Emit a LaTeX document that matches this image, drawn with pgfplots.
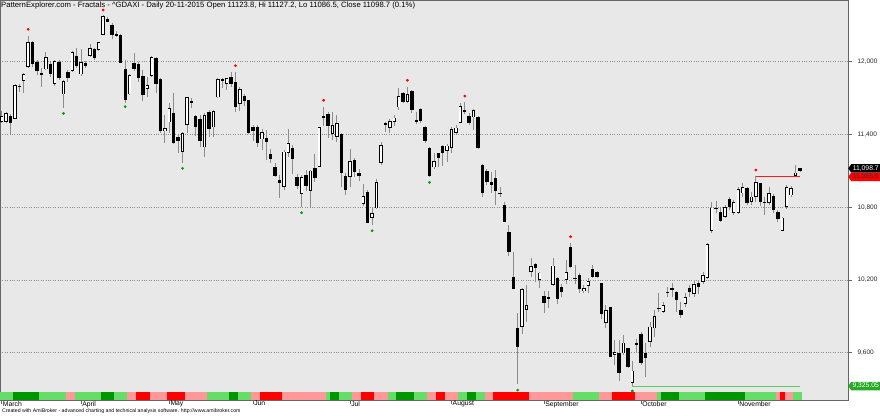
\documentclass[border=0pt]{standalone}
\usepackage{fontspec}
\setmainfont{Liberation Sans}
\usepackage{pgfplots}
\pgfplotsset{compat=1.18}
\usepackage{pgfplotstable}
\usetikzlibrary{shapes.symbols}

\definecolor{bgc}{RGB}{232,232,232}
\definecolor{lg}{RGB}{102,221,102}
\definecolor{dg}{RGB}{0,150,0}
\definecolor{pk}{RGB}{255,153,153}
\definecolor{rd}{RGB}{255,0,0}
\definecolor{fgreen}{RGB}{0,160,0}
\definecolor{lvgreen}{RGB}{100,200,100}
\definecolor{boxgreen}{RGB}{40,170,40}

% i = bar number, o h l c = open high low close, s = colour of the bottom strip
% s: 1 light green, 2 dark green, 3 pink, 4 red
\pgfplotstableread{
i o h l c s
0 11505 11593 11492 11552 1
1 11505 11588 11492 11579 1
2 11552 11569 11404 11497 1
3 11530 11816 11525 11805 2
4 11795 11816 11750 11799 2
5 11843 11904 11744 11896 2
6 11954 12212 11951 12162 2
7 12160 12173 11959 11979 2
8 11998 12014 11890 11923 2
9 11902 11946 11789 11897 1
10 11937 12082 11932 12036 1
11 11981 12000 11876 11896 1
12 11816 12014 11800 12006 1
13 11995 12014 11849 11863 1
14 11731 11849 11621 11841 1
15 11918 11932 11835 11863 3
16 11923 12091 11918 12082 3
17 12049 12110 11946 11965 1
18 11896 12102 11885 11995 1
19 11992 12008 11946 11965 1
20 12049 12143 12041 12115 1
21 12102 12110 12014 12033 1
22 12096 12165 12091 12160 1
23 12220 12385 12218 12377 2
24 12352 12366 12325 12330 2
25 12303 12316 12185 12220 2
26 12226 12256 12206 12214 1
27 12220 12226 11992 11992 1
28 11937 12014 11662 11684 1
29 11731 11899 11725 11890 3
30 11992 12068 11926 11937 3
31 11981 12000 11835 11863 4
32 11885 11932 11678 11725 4
33 11779 11871 11711 11807 4
34 11882 12047 11876 12036 3
35 12031 12036 11744 11814 3
36 11857 11863 11414 11431 3
37 11431 11560 11332 11451 3
38 11500 11657 11414 11616 4
39 11575 11744 11319 11327 4
40 11377 11395 11245 11349 4
41 11258 11423 11167 11410 4
42 11478 11711 11414 11706 3
43 11668 11698 11616 11672 3
44 11552 11560 11387 11464 3
45 11527 11560 11299 11349 3
46 11294 11575 11217 11560 3
47 11588 11602 11382 11442 1
48 11459 11602 11377 11591 1
49 11706 11863 11703 11855 1
50 11860 11868 11781 11843 1
51 11814 11868 11767 11863 1
52 11876 11918 11794 11814 2
53 11835 11918 11588 11624 2
54 11651 11789 11596 11773 1
55 11717 11734 11635 11678 1
56 11684 11684 11404 11414 1
57 11459 11478 11349 11431 3
58 11464 11475 11299 11327 3
59 11360 11442 11272 11418 4
60 11370 11436 11189 11340 4
61 11236 11278 11162 11195 4
62 11129 11162 11052 11060 4
63 11024 11066 10873 11002 4
64 10969 11272 10942 11258 3
65 11245 11442 11217 11327 3
66 11286 11313 11074 11195 3
67 11052 11074 10947 10975 3
68 10909 11066 10805 11047 3
69 11066 11107 10937 10975 3
70 10937 11107 10805 11102 3
71 11121 11239 11010 11038 3
72 11134 11464 11129 11459 3
73 11552 11629 11470 11536 3
74 11566 11588 11368 11470 1
75 11404 11588 11354 11478 2
76 11382 11560 11340 11492 2
77 11404 11410 10965 11079 1
78 11057 11079 10897 10942 1
79 11047 11278 10969 11181 1
80 11189 11203 11052 11093 3
81 11085 11113 11019 11057 3
82 10826 10991 10810 10892 4
83 10927 10942 10667 10672 4
84 10709 10791 10653 10750 4
85 10791 11031 10783 11006 3
86 11167 11340 11148 11313 3
87 11484 11505 11423 11488 3
88 11451 11525 11414 11513 1
89 11505 11560 11470 11539 1
90 11624 11781 11602 11717 2
91 11744 11753 11662 11670 2
92 11670 11794 11662 11734 2
93 11758 11767 11579 11602 2
94 11509 11588 11486 11513 1
95 11607 11616 11492 11513 1
96 11464 11470 11332 11346 1
97 11286 11299 11052 11057 3
98 11129 11245 11112 11178 3
99 11245 11250 11134 11208 4
100 11305 11313 11140 11250 4
101 11266 11322 11175 11308 3
102 11291 11464 11250 11445 3
103 11410 11478 11395 11456 3
104 11497 11657 11492 11632 1
105 11602 11665 11566 11583 1
106 11552 11575 11478 11492 2
107 11541 11610 11437 11602 2
108 11547 11552 11278 11286 1
109 11148 11154 10887 10920 1
110 11099 11113 10983 11010 3
111 11010 11093 10914 10983 3
112 11043 11107 10818 10936 4
113 10912 10969 10882 10916 4
114 10818 10845 10680 10680 4
115 10592 10653 10398 10433 4
116 10227 10433 10123 10123 4
117 9801 9930 9338 9645 4
118 9815 10131 9754 10123 4
119 9952 10159 9856 9994 4
120 10268 10379 10227 10315 3
121 10331 10342 10186 10296 3
122 10200 10268 10131 10260 3
123 10068 10112 9930 10013 3
124 10057 10112 9966 10046 3
125 10158 10379 10150 10318 3
126 10214 10222 10002 10040 3
127 10145 10167 10057 10103 3
128 10200 10365 10167 10268 3
129 10476 10507 10296 10304 3
130 10212 10323 10167 10216 1
131 10241 10255 10090 10123 1
132 10107 10156 10090 10134 1
133 10148 10214 10090 10189 1
134 10288 10323 10214 10227 1
135 10268 10274 10214 10227 1
136 10177 10177 9876 9917 3
137 9843 9994 9801 9952 3
138 9974 9979 9562 9567 3
139 9581 9705 9499 9608 4
140 9600 9705 9369 9430 4
141 9595 9746 9581 9683 4
142 9636 9636 9471 9485 4
143 9348 9534 9325 9452 4
144 9670 9711 9600 9674 3
145 9754 9773 9499 9513 3
146 9600 9683 9402 9554 3
147 9691 9856 9650 9815 3
148 9801 9952 9732 9903 3
149 9964 10090 9938 9968 1
150 9938 10021 9925 9994 2
151 10096 10145 10057 10100 2
152 10123 10177 10057 10127 2
153 10103 10112 9938 10035 2
154 9952 10021 9884 9911 1
155 10002 10095 9980 10062 1
156 10131 10159 10062 10103 1
157 10084 10194 10062 10167 1
158 10172 10200 10084 10145 1
159 10181 10268 10167 10241 1
160 10214 10502 10205 10494 2
161 10606 10845 10590 10797 2
162 10789 10854 10750 10793 2
163 10764 10800 10680 10689 2
164 10722 10818 10709 10800 2
165 10865 10887 10777 10800 2
166 10750 10859 10736 10845 2
167 10750 10969 10744 10947 2
168 10914 10997 10887 10964 2
169 10956 10964 10818 10837 1
170 10845 10928 10818 10887 1
171 10887 11055.5 10845 11006 1
172 10997 11002 10810 10845 1
173 10842 10887 10736 10838 1
174 10837 10964 10818 10914 1
175 10892 10909 10750 10777 1
176 10764 10777 10680 10703 3
177 10606 10722 10604 10714 4
178 10804 10983 10785 10969 3
179 10898 10975 10887 10956 3
180 11057 11148 11052 11085 1
181 11123.8 11127.2 11086.5 11098.7 1
}\dax

\begin{document}
\begin{tikzpicture}
\begin{axis}[
    at={(0,0)}, anchor=south west,
    width=848pt, height=400pt, scale only axis,
    xmin=-0.39, xmax=191.9,
    ymin=9210, ymax=12509,
    clip mode=individual,
    axis background/.style={fill=bgc},
    axis line style={black!60, line width=0.8pt},
    xtick={0,18,38,57,79,102,123,145,167},
    xticklabels={March,April,May,Jun,Jul,August,September,October,November},
    xtick pos=left,
    ytick={9600,10200,10800,11400,12000},
    ytick pos=right, yticklabel pos=right,
    scaled y ticks=false,
    /pgf/number format/assume math mode=true,
    /pgf/number format/1000 sep={,},
    tick align=outside, major tick length=3.5pt,
    tick style={black!60, line width=0.6pt},
    ymajorgrids,
    grid style={black!45, dotted, line width=0.6pt},
    xticklabel style={anchor=north west, inner sep=0pt, xshift=1pt, yshift=2.6pt,
        font=\fontsize{6.8}{7}\selectfont},
    yticklabel style={anchor=west, inner sep=0pt, xshift=5.8pt,
        font=\fontsize{6.5}{7}\selectfont, text=black!85},
    candle/.style={draw=none, mark=none, error bars/.cd, y dir=both, y explicit, error mark=none},
]

% bottom strip
\addplot[restrict expr to domain={\thisrow{s}}{0.5:1.5}, candle,
    error bar style={draw=lg, line width=4.5pt}]
    table[x=i, y expr=9243, y error expr=33] {\dax};
\addplot[restrict expr to domain={\thisrow{s}}{1.5:2.5}, candle,
    error bar style={draw=dg, line width=4.5pt}]
    table[x=i, y expr=9243, y error expr=33] {\dax};
\addplot[restrict expr to domain={\thisrow{s}}{2.5:3.5}, candle,
    error bar style={draw=pk, line width=4.5pt}]
    table[x=i, y expr=9243, y error expr=33] {\dax};
\addplot[restrict expr to domain={\thisrow{s}}{3.5:4.5}, candle,
    error bar style={draw=rd, line width=4.5pt}]
    table[x=i, y expr=9243, y error expr=33] {\dax};

% wicks
\addplot[candle, error bar style={draw=black!45, line width=0.8pt}]
    table[x=i, y expr=(\thisrow{h}+\thisrow{l})/2,
          y error expr=(\thisrow{h}-\thisrow{l})/2] {\dax};

% bodies, black
\addplot[candle, error bar style={draw=black, line width=3.4pt}]
    table[x=i, y expr=(\thisrow{o}+\thisrow{c})/2,
          y error expr={max(abs(\thisrow{o}-\thisrow{c})/2,5)}] {\dax};

% bodies of up bars, white inside
\addplot[restrict expr to domain={\thisrow{c}-\thisrow{o}}{14:100000}, candle,
    error bar style={draw=white, line width=1.8pt}]
    table[x=i, y expr=(\thisrow{o}+\thisrow{c})/2,
          y error expr=(\thisrow{c}-\thisrow{o})/2-6.6] {\dax};

% fractal levels
\addplot[red!90!white, line width=0.7pt, mark=none] coordinates {(171,11055.5) (181,11055.5)};
\addplot[lvgreen, line width=0.7pt, mark=none] coordinates {(143,9325.05) (181,9325.05)};

% fractal marks
\addplot[only marks, mark=*, mark size=1.2pt, color=red] coordinates {
    (6,12267) (23,12426) (53,11967) (73,11682) (92,11847) (105,11717) (129,10557) (171,11107)};
\addplot[only marks, mark=*, mark size=1.2pt, color=fgreen] coordinates {
    (14,11574) (28,11629) (41,11121) (68,10755) (84,10606) (97,11005) (117,9292) (143,9284)};

\node[anchor=north west, inner sep=0pt, font=\fontsize{7.7}{8}\selectfont]
    at (rel axis cs:0,1) [xshift=1pt, yshift=-2.2pt]
    {PatternExplorer.com - Fractals - \textasciicircum GDAXI - Daily 20-11-2015 Open 11123.8, Hi 11127.2, Lo 11086.5, Close 11098.7 (0.1\%)};
\node[anchor=west, inner sep=0pt, font=\fontsize{5.2}{6}\selectfont]
    at (rel axis cs:0,0) [xshift=2pt, yshift=-11.3pt]
    {Created with AmiBroker - advanced charting and technical analysis software. http://www.amibroker.com};

\node[signal, signal to=west, signal pointer angle=110, fill=black, text=white,
    anchor=west, inner sep=0.8pt, minimum height=8.5pt, minimum width=32pt,
    font=\fontsize{6.8}{7}\selectfont]
    at (axis cs:191.9,11098.7) [yshift=2.6pt] {11,098.7};
\node[signal, signal to=west, signal pointer angle=110, fill=red, text=black!80,
    anchor=west, inner sep=0.8pt, minimum height=8.5pt, minimum width=32pt,
    font=\fontsize{6.8}{7}\selectfont]
    at (axis cs:191.9,11055.5) [yshift=-0.6pt] {11,055.5};
\node[signal, signal to=west, signal pointer angle=110, fill=boxgreen, text=white,
    anchor=west, inner sep=0.8pt, minimum height=8.5pt, minimum width=32pt,
    font=\fontsize{6.8}{7}\selectfont]
    at (axis cs:191.9,9325.05) {9,325.05};
\end{axis}
\pgfresetboundingbox
\path (0,-15pt) rectangle (880pt,400pt);
\end{tikzpicture}
\end{document}
